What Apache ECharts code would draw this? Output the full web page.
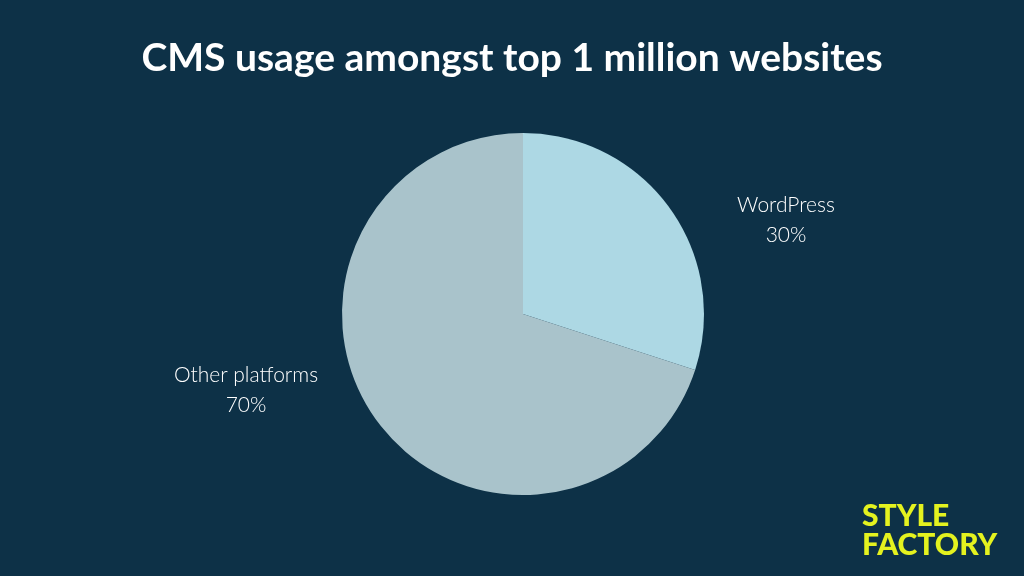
<!DOCTYPE html>
<html><head><meta charset="utf-8">
<script src="https://cdn.jsdelivr.net/npm/echarts@6/dist/echarts.min.js"></script>
<style>html,body{margin:0;padding:0;background:#0d3147;}#c{width:1024px;height:576px;}</style>
</head><body><div id="c"></div>
<script>
var names = ['WordPress', 'Other platforms'];
var shares = [30, 70];
var colors = ['#add8e4', '#a9c3cb'];
var labelPos = [[786, 220], [246, 390]];

var chart = echarts.init(document.getElementById('c'));
var texts = names.map(function(n, i){
    return {type:'text', x:labelPos[i][0], y:labelPos[i][1], style:{
        text:n+'\n'+shares[i]+'%', fill:'#ffffff', font:'300 21px Lato, sans-serif',
        align:'center', verticalAlign:'middle', lineHeight:30}};
});
texts.push({type:'text', x:862, y:531, style:{text:'STYLE\nFACTORY', fill:'#e4f21f',
    font:'900 30px Lato, sans-serif', align:'left', verticalAlign:'middle', lineHeight:29}});
chart.setOption({
    backgroundColor:'#0d3147',
    title:{text:'CMS usage amongst top 1 million websites', left:'center', top:34,
        textStyle:{color:'#ffffff', fontSize:39, fontWeight:'bold', fontFamily:'Lato, sans-serif'}},
    series:[{type:'pie', center:[523, 314], radius:181, startAngle:90, clockwise:true,
        label:{show:false}, labelLine:{show:false}, silent:true, animation:false,
        data:names.map(function(n,i){return {name:n, value:shares[i], itemStyle:{color:colors[i]}};})}],
    graphic:texts
});
</script></body></html>
